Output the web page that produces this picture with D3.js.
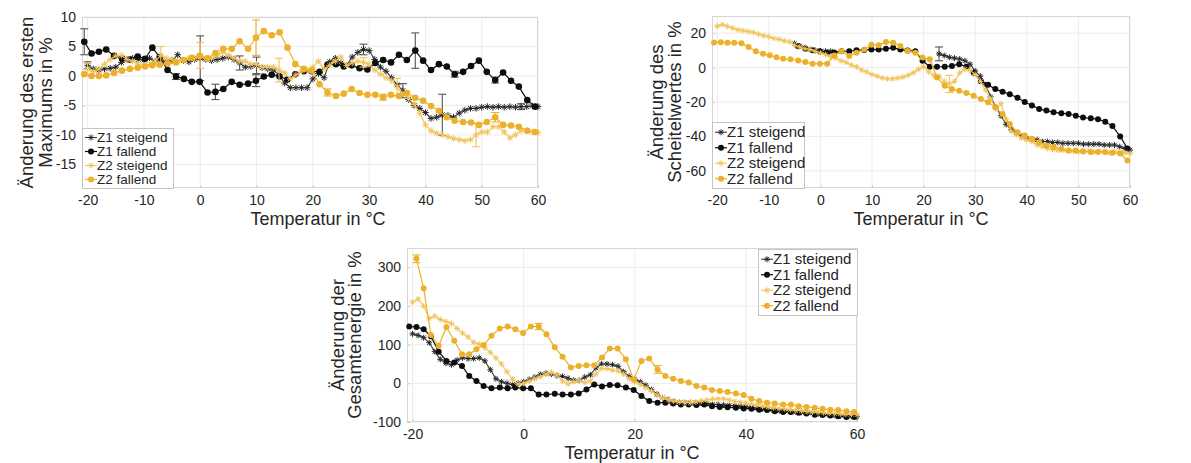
<!DOCTYPE html>
<html>
<head>
<meta charset="utf-8">
<script src="https://cdn.jsdelivr.net/npm/d3@7"></script>
<style>
  body { margin: 0; background: #fff; }
  svg { display: block; }
  text { font-family: "Liberation Sans", Arial, Helvetica, sans-serif; fill: #262626; }
</style>
</head>
<body>
<svg id="chart" width="1191" height="463"></svg>
<script>
// ---- temperature grids (°C) ----
const tRise = [-20,-19,-18,-17,-16,-15,-14,-13,-12,-11,-10,-9,-8,-7,-6,-5,-4,-3,-2,-1,
  0,1,2,3,4,5,6,7,8,9,10,11,12,13,14,15,16,17,18,19,20,21,22,23,24,25,26,27,28,29,
  30,31,32,33,34,35,36,37,38,39,40,41,42,43,44,45,46,47,48,49,50,51,52,53,54,55,56,57,58,59,60];
const tFall = [-20.6,-19.3,-18.0,-16.7,-15.3,-13.9,-12.5,-11.1,-9.8,-8.5,
  -7.2,-5.8,-4.3,-2.9,-1.5,-0.1,1.3,2.7,4.1,5.6,
  7.0,8.5,9.9,11.3,12.7,14.1,15.5,16.9,18.4,19.8,
  21.2,22.6,24.1,25.5,26.9,28.3,29.7,31.1,32.5,33.9,
  35.3,36.7,38.2,39.6,41.0,42.4,43.8,45.2,46.7,48.1,
  49.5,50.9,52.4,53.8,55.2,56.6,58.1,59.5];

const seriesNames = ["Z1 steigend", "Z1 fallend", "Z2 steigend", "Z2 fallend"];

// ---- Änderung des ersten Maximums (%) ----
const maxZ1Rise = [1.8,1.2,1.0,1.2,1.3,1.5,2.3,2.8,3.0,2.8,
  2.7,3.0,2.5,2.7,2.4,2.6,3.6,2.6,2.4,2.8,
  3.0,2.8,2.6,2.8,3.0,3.2,2.8,2.2,1.5,1.6,
  1.8,1.4,1.2,1.0,0.2,-1.2,-2.0,-2.0,-2.0,-2.0,
  -0.5,0.4,-0.3,2.4,3.0,2.2,1.8,3.2,4.0,4.5,
  4.3,2.8,1.5,0.8,-0.3,-1.5,-2.5,-4.0,-5.0,-5.5,
  -6.2,-7.2,-7.0,-6.6,-6.7,-7.0,-6.3,-5.8,-5.5,-5.5,
  -5.3,-5.2,-5.3,-5.2,-5.3,-5.2,-5.3,-5.2,-5.2,-5.1,-5.2];
const maxZ1Fall = [5.8,3.8,4.1,4.5,3.4,3.0,2.8,3.3,2.9,4.8,
  3.2,1.0,-0.1,-0.5,-1.0,-1.0,-2.8,-2.7,-2.2,-1.0,
  -1.5,-1.3,-0.8,-0.1,0.2,-0.1,-0.6,0.3,0.8,0.8,
  0.7,1.9,2.0,1.6,1.8,1.3,1.1,2.2,2.7,2.3,
  3.6,2.7,4.3,2.6,1.0,2.0,1.6,0.3,0.7,1.7,
  2.6,0.7,-0.7,0.6,-0.8,-1.8,-4.1,-5.2];
const maxZ2Rise = [1.2,0.8,1.2,2.0,2.8,3.4,3.5,2.8,2.5,2.0,
  1.8,2.0,2.5,3.5,3.0,2.8,2.5,2.7,3.0,3.0,
  3.5,3.0,3.0,3.5,4.0,3.5,3.0,2.5,2.5,2.0,
  2.0,1.5,1.5,1.5,1.0,0.5,-0.5,0.2,0.8,1.0,
  1.5,2.5,1.2,1.8,2.5,3.2,1.8,2.2,2.5,2.3,
  2.0,1.0,0.3,-0.3,-0.8,-1.9,-3.0,-3.8,-4.8,-6.3,
  -8.3,-9.3,-9.7,-10.0,-10.3,-10.6,-10.8,-11.0,-10.8,-10.0,
  -9.5,-9.5,-8.6,-8.6,-9.5,-10.5,-10.0,-9.3,-9.2,-9.5,-9.6];
const maxZ2Fall = [0.3,0.0,0.0,0.1,0.5,0.9,1.2,1.4,1.6,1.8,
  1.9,2.1,2.3,2.7,3.1,3.4,3.0,3.9,4.6,4.6,
  5.9,4.6,6.5,7.6,6.9,7.4,4.8,2.0,1.2,0.9,
  -1.4,-2.8,-3.4,-3.0,-2.2,-2.9,-3.2,-3.2,-3.6,-3.2,
  -3.4,-2.9,-3.7,-4.2,-5.1,-5.9,-7.0,-7.6,-7.8,-7.9,
  -8.3,-7.8,-7.0,-8.3,-8.4,-8.6,-9.3,-9.5];
// error bars: [temperature, half width]
const maxZ1RiseErr = [[-20,0.6],[0,3.8],[7,1.2],[10,1.4],[29,0.9],[36,1.2],[43,3.5],[57,0.5]];
const maxZ1FallErr = [[-20.6,2.2],[-4.3,0.5],[2.7,1.3],[9.9,1.0],[38.2,3.0],[45.2,0.5],[52.4,0.5]];
const maxZ2RiseErr = [[-20,1.0],[-7,1.5],[0,2.2],[14,2.0],[29,0.8],[35,1.5],[49,2.0]];
const maxZ2FallErr = [[9.9,3.0],[22.6,0.6],[32.5,0.5],[52.4,0.8]];

// ---- Änderung des Scheitelwertes (%) ----
const peakZ1Rise = [null,null,null,null,null,null,null,null,null,null,
  null,null,null,null,null,14,12.5,11.5,10.5,10,
  9.5,9.5,9.5,null,null,null,null,null,null,null,
  null,null,null,null,null,null,null,null,null,null,
  null,null,null,8,7,6,5.5,5,4,2,
  -2,-5,-10,-17,-23,-28,-33,-36,-38,-40,
  -41,-42,-42,-43,-43,-43.5,-43.5,-44,-44,-44,
  -44,-44.5,-44.5,-44.5,-44.5,-45,-45,-45,-46,-47,-48];
const peakZ1Fall = [null,null,null,null,null,null,null,null,null,null,
  null,null,12.4,10.9,10.1,9.5,8.6,8.8,9.5,9.5,
  10.1,10.3,10.5,10.5,11,11.5,10.5,10,9.5,4,
  0.5,0.5,0.5,1,2,0.5,-3,-8,-10,-12.5,
  -14,-15.5,-17.5,-20,-22,-24,-25,-26,-26.5,-27,
  -28,-29,-29.5,-30,-31.5,-34,-40,-47];
const peakZ2Rise = [24,25,24,23,22,21.5,21,20.5,19.5,18.5,
  18,17,16.5,15.5,15,13,12,11,10.5,9.5,
  8.5,7.5,6.5,5.5,4,3,1.5,0.5,-1.5,-2.5,
  -4,-5,-6,-6.5,-6.5,-6,-5.5,-4.5,-3,-1,
  0.5,-2.5,-4.5,-5,-8,-9.5,-8,-3,-1,-1.5,
  -4,-8,-13,-18,-24,-21,-30,-37,-39,-41,
  -42,-43,-45,-46,-47,-47.5,-48,-48,-48.5,-48.5,
  -49,-49,-48.5,-49,-48.5,-49,-49.5,-49,-49,-49.5,-50];
const peakZ2Fall = [14.6,14.7,14.5,14.5,14.2,12,9.5,8,7.2,6,
  5.1,4.8,4.2,3.2,2.3,2.3,2.3,7,9.5,6.7,
  8.6,10.5,13.3,13,14.9,14.5,12.5,9.6,8.7,5.8,
  4.8,-5.8,-10.6,-12.5,-13.5,-14.8,-16.4,-18.3,-20.2,-23,
  -27,-32.8,-37.6,-39.5,-41.4,-43.4,-45.3,-46.2,-47.2,-48.2,
  -48.2,-48.7,-49.1,-49.1,-49.1,-49.5,-50,-54];
const peakZ1RiseErr = [[23,4]];
const peakZ1FallErr = [];
const peakZ2RiseErr = [[25,5]];
const peakZ2FallErr = [];

// ---- Änderung der Gesamtenergie (%) ----
const energyZ1Rise = [128,124,118,105,82,62,52,48,60,66,
  64,64,66,58,35,12,4,0,-3,0,
  4,10,16,23,26,24,20,18,13,8,
  8,16,22,40,50,50,48,44,30,18,
  10,4,-5,-16,-28,-37,-42,-46,-50,-50,
  -50,-51,-51,-52,-54,-55,-56,-57,-58,-59,
  -61,-62,-64,-66,-68,-70,-71,-72,-73,-74,
  -75,-76,-77,-79,-80,-82,-83,-84,-85,-85,-86];
const energyZ1Fall = [147,146,140,122,82,58,54,45,19,6,
  -7,-13,-11,-13,-11,-13,-13,-29,-29,-27,
  -29,-29,-26,-16,-3,-8,-4,-5,-11,-17,
  -33,-46,-50,-50,-52,-55,-55,-56,-55,-59,
  -61,-62,-63,-65,-66,-68,-69,-72,-74,-74,
  -76,-78,-81,-82,-83,-85,-87,-87];
const energyZ2Rise = [210,218,200,168,174,165,160,155,142,130,
  120,106,101,92,80,66,50,30,10,-2,
  0,6,12,17,24,28,21,6,-2,4,
  8,2,6,24,38,38,34,32,24,12,
  4,-3,-12,-20,-30,-37,-42,-46,-48,-50,
  -50,-48,-45,-43,-41,-40,-40,-43,-47,-49,
  -51,-54,-56,-59,-61,-63,-65,-66,-68,-70,
  -71,-73,-74,-75,-76,-77,-78,-79,-80,-80,-81];
const energyZ2Fall = [null,322,246,125,97,145,110,75,75,88,
  99,123,142,147,140,130,147,147,127,93,
  69,41,45,47,47,67,90,90,62,10,
  58,64,36,19,12,6,2,-7,-11,-17,
  -20,-22.5,-26,-30,-40,-46,-50,-52,-55,-55,
  -59,-61,-63,-66,-68,-69,-72,-74];
const energyZ1RiseErr = [];
const energyZ1FallErr = [];
const energyZ2RiseErr = [];
const energyZ2FallErr = [[-19.3,10],[2.7,8],[24.1,10]];

// ---- series appearance ----
const styles = [
  { line: "#3d3d3d", mark: "#262626", marker: "star", width: 1.1 },
  { line: "#0d0d0d", mark: "#0d0d0d", marker: "dot",  width: 1.2 },
  { line: "#f2c35a", mark: "#f2c35a", marker: "star", width: 1.1 },
  { line: "#ecb12a", mark: "#ecb12a", marker: "dot",  width: 1.2 }
];

const tempDomain = [-21, 60];

const panels = [
  {
    x0: 82, x1: 538, y0: 17, y1: 188,
    yDomain: [-19, 10], yTicks: [-15, -10, -5, 0, 5, 10],
    xTicks: [-20, -10, 0, 10, 20, 30, 40, 50, 60],
    yTitle: ["Änderung des ersten", "Maximums in %"], yTitleX: [27, 46],
    xTitleX: 318, xTitleY: 225,
    legend: { x: 82, y: 128, w: 91, h: 60, font: 13.5 },
    dot: 3.3, star: 3.3,
    series: [
      [tRise, maxZ1Rise, maxZ1RiseErr], [tFall, maxZ1Fall, maxZ1FallErr],
      [tRise, maxZ2Rise, maxZ2RiseErr], [tFall, maxZ2Fall, maxZ2FallErr]
    ]
  },
  {
    x0: 712, x1: 1130, y0: 16, y1: 188,
    yDomain: [-70, 30], yTicks: [-60, -40, -20, 0, 20],
    xTicks: [-20, -10, 0, 10, 20, 30, 40, 50, 60],
    yTitle: ["Änderung des", "Scheitelwertes in %"], yTitleX: [657, 675],
    xTitleX: 921, xTitleY: 225,
    legend: { x: 712, y: 122, w: 92, h: 66, font: 15 },
    dot: 3.0, star: 3.0,
    series: [
      [tRise, peakZ1Rise, peakZ1RiseErr], [tFall, peakZ1Fall, peakZ1FallErr],
      [tRise, peakZ2Rise, peakZ2RiseErr], [tFall, peakZ2Fall, peakZ2FallErr]
    ]
  },
  {
    x0: 407, x1: 857, y0: 248, y1: 422,
    yDomain: [-100, 350], yTicks: [-100, 0, 100, 200, 300],
    xTicks: [-20, 0, 20, 40, 60],
    yTitle: ["Änderung der", "Gesamtenergie in %"], yTitleX: [338, 355],
    xTitleX: 632, xTitleY: 459,
    legend: { x: 758, y: 249, w: 99, h: 66, font: 15 },
    dot: 3.0, star: 3.0,
    series: [
      [tRise, energyZ1Rise, energyZ1RiseErr], [tFall, energyZ1Fall, energyZ1FallErr],
      [tRise, energyZ2Rise, energyZ2RiseErr], [tFall, energyZ2Fall, energyZ2FallErr]
    ]
  }
];

const svg = d3.select("#chart");

function starPath(r) {
  const a = r * 0.72;
  return `M${-r},0L${r},0M0,${-r}L0,${r}M${-a},${-a}L${a},${a}M${-a},${a}L${a},${-a}`;
}

function drawMarker(sel, st, size) {
  if (st.marker === "dot") {
    sel.append("circle").attr("r", size).attr("fill", st.mark);
  } else {
    sel.append("path").attr("d", starPath(size)).attr("fill", "none")
      .attr("stroke", st.mark).attr("stroke-width", 1);
  }
}

function drawPanel(p) {
  const x = d3.scaleLinear().domain(tempDomain).range([p.x0, p.x1]);
  const y = d3.scaleLinear().domain(p.yDomain).range([p.y1, p.y0]);
  const g = svg.append("g");

  // background and grid
  g.append("rect").attr("x", p.x0).attr("y", p.y0)
    .attr("width", p.x1 - p.x0).attr("height", p.y1 - p.y0).attr("fill", "#fff");
  g.append("g").selectAll("line").data(p.xTicks).join("line")
    .attr("x1", d => x(d)).attr("x2", d => x(d)).attr("y1", p.y0).attr("y2", p.y1)
    .attr("stroke", "#ececec").attr("stroke-width", 1);
  g.append("g").selectAll("line").data(p.yTicks).join("line")
    .attr("x1", p.x0).attr("x2", p.x1).attr("y1", d => y(d)).attr("y2", d => y(d))
    .attr("stroke", "#ececec").attr("stroke-width", 1);

  // axes
  const xAxis = g.append("g").attr("transform", `translate(0,${p.y1})`)
    .call(d3.axisBottom(x).tickValues(p.xTicks).tickSize(-3).tickPadding(7).tickFormat(d3.format("d")));
  const yAxis = g.append("g").attr("transform", `translate(${p.x0},0)`)
    .call(d3.axisLeft(y).tickValues(p.yTicks).tickSize(-3).tickPadding(6).tickFormat(d3.format("d")));
  [xAxis, yAxis].forEach(a => {
    a.select(".domain").remove();
    a.selectAll(".tick line").attr("stroke", "#c8c8c8");
    a.selectAll(".tick text").attr("font-size", 14).attr("fill", "#262626")
      .style("font-family", '"Liberation Sans", Arial, sans-serif');
  });
  xAxis.selectAll(".tick text").text(d => d < 0 ? "-" + Math.abs(d) : d);
  yAxis.selectAll(".tick text").text(d => d < 0 ? "-" + Math.abs(d) : d);

  g.append("rect").attr("x", p.x0 + 0.5).attr("y", p.y0 + 0.5)
    .attr("width", p.x1 - p.x0 - 1).attr("height", p.y1 - p.y0 - 1)
    .attr("fill", "none").attr("stroke", "#d6d6d6");

  // axis titles
  g.append("text").attr("x", p.xTitleX).attr("y", p.xTitleY)
    .attr("text-anchor", "middle").attr("font-size", 18).text("Temperatur in °C");
  const cy = (p.y0 + p.y1) / 2;
  p.yTitle.forEach((t, i) => {
    g.append("text").attr("transform", `translate(${p.yTitleX[i] + 6},${cy}) rotate(-90)`)
      .attr("text-anchor", "middle").attr("font-size", 18.5).text(t);
  });

  // series
  p.series.forEach(([temps, vals, errs], si) => {
    const st = styles[si];
    const pts = temps.map((t, i) => ({ t, v: vals[i] }));
    const sg = g.append("g");
    const line = d3.line().defined(d => d.v !== null).x(d => x(d.t)).y(d => y(d.v));
    sg.append("path").datum(pts).attr("d", line).attr("fill", "none")
      .attr("stroke", st.line).attr("stroke-width", st.width);

    // error bars
    const eb = errs.map(([t, e]) => {
      const i = temps.indexOf(t);
      return { t, v: vals[i], e };
    }).filter(d => d.v !== null && d.v !== undefined);
    const ebg = sg.append("g").attr("stroke", si < 2 ? "#555" : st.line).attr("stroke-width", 1.1);
    eb.forEach(d => {
      const cx = x(d.t), ya = y(d.v + d.e), yb = y(d.v - d.e);
      ebg.append("line").attr("x1", cx).attr("x2", cx).attr("y1", ya).attr("y2", yb);
      ebg.append("line").attr("x1", cx - 4).attr("x2", cx + 4).attr("y1", ya).attr("y2", ya);
      ebg.append("line").attr("x1", cx - 4).attr("x2", cx + 4).attr("y1", yb).attr("y2", yb);
    });

    const size = st.marker === "dot" ? p.dot : p.star;
    sg.append("g").selectAll("g").data(pts.filter(d => d.v !== null)).join("g")
      .attr("transform", d => `translate(${x(d.t)},${y(d.v)})`)
      .each(function () { drawMarker(d3.select(this), st, size); });
  });

  // legend
  const L = p.legend;
  const lg = g.append("g");
  lg.append("rect").attr("x", L.x + 0.5).attr("y", L.y + 0.5).attr("width", L.w).attr("height", L.h)
    .attr("fill", "#fff").attr("stroke", "#c4c4c4");
  const step = (L.h - 4) / 4;
  seriesNames.forEach((name, i) => {
    const st = styles[i];
    const cy2 = L.y + 2 + step * (i + 0.5) + 0.5;
    lg.append("line").attr("x1", L.x + 3).attr("x2", L.x + 15).attr("y1", cy2).attr("y2", cy2)
      .attr("stroke", st.line).attr("stroke-width", st.width);
    drawMarker(lg.append("g").attr("transform", `translate(${L.x + 9},${cy2})`), st, 3);
    lg.append("text").attr("x", L.x + 15).attr("y", cy2 + L.font / 3)
      .attr("font-size", L.font).text(name);
  });
}

panels.forEach(drawPanel);
</script>
</body>
</html>
